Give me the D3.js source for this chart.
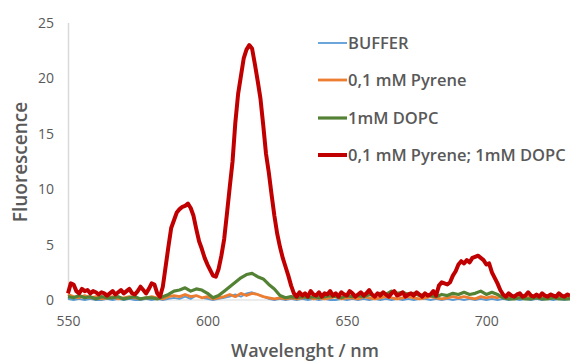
<!DOCTYPE html>
<html>
<head>
<meta charset="utf-8">
<script src="https://cdn.jsdelivr.net/npm/d3@7"></script>
<style>
  body { margin: 0; background: #fff; }
  svg { display: block; font-family: "Open Sans", sans-serif; }
</style>
</head>
<body>
<div id="chart"></div>
<script>
var svgWidth = 570, svgHeight = 361;

// red curve, 1 nm steps from 550 nm
var redStart = 550;
var redValues = [
  0.6, 1.5, 1.4, 0.8, 0.6, 1.0, 0.8, 0.9, 0.6, 0.8,
  0.7, 0.5, 0.7, 0.6, 0.4, 0.6, 0.8, 0.5, 0.7, 0.9,
  0.6, 0.8, 1.0, 0.6, 0.5, 0.8, 1.2, 0.9, 0.6, 1.0,
  1.5, 1.4, 0.6, 0.3, 1.2, 3.0, 4.8, 6.5, 7.2, 7.9,
  8.2, 8.4, 8.5, 8.7, 8.3, 7.6, 6.4, 5.3, 4.6, 3.8,
  3.2, 2.7, 2.2, 2.1, 2.8, 4.0, 5.5, 7.8, 10.2, 12.5,
  16.0, 18.6, 20.2, 21.8, 22.6, 23.0, 22.7, 21.3, 19.8, 18.2,
  15.8, 13.2, 11.5, 9.5, 7.6, 6.0, 4.8, 3.8, 3.0, 2.2,
  1.3, 0.6, 0.3, 0.7, 0.4, 0.6, 0.3, 0.8, 0.5, 0.4,
  0.7, 0.3, 0.6, 0.5, 0.8, 0.4, 0.6, 0.3, 0.7, 0.5,
  0.4, 0.8, 0.6, 0.3, 0.5, 0.7, 0.4, 0.6, 0.9, 0.5,
  0.3, 0.6, 0.4, 0.7, 0.5, 0.3, 0.6, 0.8, 0.4, 0.5,
  0.7, 0.3, 0.5, 0.6, 0.4, 0.7, 0.5, 0.3, 0.6, 0.4,
  0.5, 0.8, 0.4, 1.3, 1.6, 1.5, 1.4, 1.6, 2.2, 2.6,
  3.2, 3.5, 3.3, 3.6, 3.4, 3.8, 3.9, 4.0, 3.8, 3.6,
  3.2, 3.3, 2.5, 2.0, 1.5, 0.9, 0.5, 0.3, 0.6, 0.4,
  0.3, 0.5, 0.6, 0.3, 0.4, 0.7, 0.4, 0.3, 0.5, 0.3,
  0.6, 0.4, 0.3, 0.5, 0.4, 0.3, 0.6, 0.4, 0.3, 0.5,
  0.4
];

// other curves, 2 nm steps from 550 nm
var lowStart = 550;
var greenValues = [
  0.3, 0.2, 0.4, 0.2, 0.3, 0.1, 0.3, 0.2, 0.2, 0.3,
  0.1, 0.2, 0.3, 0.1, 0.2, 0.2, 0.1, 0.3, 0.5, 0.8,
  0.9, 1.1, 0.8, 1.0, 0.9, 0.6, 0.2, 0.4, 0.8, 1.2,
  1.6, 2.0, 2.3, 2.4, 2.1, 1.9, 1.4, 1.0, 0.4, 0.2,
  0.3, 0.2, 0.3, 0.2, 0.3, 0.2, 0.3, 0.4, 0.3, 0.2,
  0.4, 0.3, 0.4, 0.3, 0.5, 0.4, 0.6, 0.5, 0.8, 0.6,
  0.7, 0.5, 0.6, 0.4, 0.5, 0.4, 0.3, 0.5, 0.4, 0.6,
  0.5, 0.7, 0.5, 0.6, 0.8, 0.5, 0.7, 0.5, 0.2, 0.1,
  0.1, 0.2, 0.1, 0.1, 0.2, 0.1, 0.1, 0.2, 0.1, 0.1,
  0.1
];
var orangeValues = [
  0.5, 0.3, 0.2, 0.4, 0.2, 0.3, 0.1, 0.2, 0.3, 0.1,
  0.2, 0.3, 0.2, 0.1, 0.2, 0.3, 0.2, 0.1, 0.3, 0.4,
  0.3, 0.5, 0.3, 0.4, 0.2, 0.3, 0.1, 0.2, 0.3, 0.5,
  0.3, 0.6, 0.4, 0.6, 0.5, 0.3, 0.2, 0.1, 0.2, 0.1,
  0.2, 0.1, 0.2, 0.3, 0.1, 0.2, 0.1, 0.2, 0.3, 0.1,
  0.2, 0.2, 0.1, 0.3, 0.2, 0.1, 0.2, 0.3, 0.2, 0.1,
  0.2, 0.3, 0.2, 0.1, 0.2, 0.3, 0.2, 0.1, 0.2, 0.3,
  0.2, 0.3, 0.2, 0.1, 0.3, 0.2, 0.3, 0.2, 0.4, 0.3,
  0.2, 0.4, 0.3, 0.2, 0.3, 0.2, 0.4, 0.2, 0.3, 0.2,
  0.3
];
var blueValues = [
  0.1, 0.0, 0.1, 0.0, 0.1, 0.0, 0.0, 0.1, 0.0, 0.1,
  0.0, 0.1, 0.0, 0.0, 0.1, 0.0, 0.1, 0.0, 0.1, 0.2,
  0.1, 0.3, 0.1, 0.4, 0.2, 0.1, 0.0, 0.1, 0.2, 0.3,
  0.5, 0.3, 0.6, 0.7, 0.5, 0.3, 0.1, 0.0, 0.1, 0.0,
  0.1, 0.0, 0.1, 0.0, 0.1, 0.0, 0.1, 0.0, 0.0, 0.1,
  0.0, 0.1, 0.0, 0.1, 0.0, 0.1, 0.0, 0.1, 0.0, 0.1,
  0.0, 0.1, 0.0, 0.1, 0.1, 0.0, 0.1, 0.0, 0.1, 0.0,
  0.1, 0.0, 0.1, 0.0, 0.1, 0.0, 0.1, 0.0, 0.1, 0.0,
  0.1, 0.0, 0.1, 0.0, 0.1, 0.0, 0.1, 0.0, 0.1, 0.0,
  0.1
];

var seriesNames = ["BUFFER", "0,1 mM Pyrene", "1mM DOPC", "0,1 mM Pyrene; 1mM DOPC"];
var seriesColors = ["#5b9bd5", "#ed7d31", "#548235", "#c00000"];
var seriesWidths = [1.8, 2.8, 3.2, 4];
var xTicks = [550, 600, 650, 700];
var yTicks = [0, 5, 10, 15, 20, 25];

function toPoints(start, step, values) {
  return values.map(function(v, i) { return { wl: start + i * step, v: v }; });
}
var seriesData = [
  toPoints(lowStart, 2, blueValues),
  toPoints(lowStart, 2, orangeValues),
  toPoints(lowStart, 2, greenValues),
  toPoints(redStart, 1, redValues)
];

var svg = d3.select("#chart").append("svg").attr("width", svgWidth).attr("height", svgHeight);

var xScale = d3.scaleLinear().domain([550, 730]).range([68, 570]);
var yScale = d3.scaleLinear().domain([0, 25]).range([300, 23]);

// axes
svg.append("line").attr("x1", 68).attr("x2", 570).attr("y1", yScale(0)).attr("y2", yScale(0))
  .attr("stroke", "#d9d9d9").attr("stroke-width", 1);
svg.append("line").attr("x1", 68.5).attr("x2", 68.5).attr("y1", yScale(25)).attr("y2", yScale(0))
  .attr("stroke", "#d9d9d9").attr("stroke-width", 1.5);

var leftAxis = d3.axisLeft(yScale).tickValues(yTicks).tickSize(0).tickPadding(14);
var gy = svg.append("g").attr("transform", "translate(68,0)").call(leftAxis);
var bottomAxis = d3.axisBottom(xScale).tickValues(xTicks).tickSize(0).tickPadding(16);
var gx = svg.append("g").attr("transform", "translate(0," + yScale(0) + ")").call(bottomAxis);
[gx, gy].forEach(function(g) {
  g.select(".domain").remove();
  g.selectAll("text").attr("fill", "#595959").attr("font-size", "14px")
    .attr("font-family", "Open Sans, sans-serif");
});

// curves
var line = d3.line().x(function(d) { return xScale(d.wl); }).y(function(d) { return yScale(d.v); });
svg.selectAll("path.curve").data(seriesData).enter().append("path")
  .attr("class", "curve")
  .attr("d", line)
  .attr("fill", "none")
  .attr("stroke", function(d, i) { return seriesColors[i]; })
  .attr("stroke-width", function(d, i) { return seriesWidths[i]; })
  .attr("stroke-linejoin", "round");

// legend
var legendY = [43, 80, 118, 155];
var legend = svg.selectAll("g.legend").data(seriesNames).enter().append("g")
  .attr("class", "legend")
  .attr("transform", function(d, i) { return "translate(318," + legendY[i] + ")"; });
legend.append("line").attr("x1", 0).attr("x2", 29).attr("y1", 0).attr("y2", 0)
  .attr("stroke", function(d, i) { return seriesColors[i]; })
  .attr("stroke-width", function(d, i) { return seriesWidths[i]; });
legend.append("text").attr("x", 30).attr("y", 6).text(function(d) { return d; })
  .attr("fill", "#595959").attr("font-size", "16.5px").attr("font-weight", "600");

// titles
svg.append("text").attr("transform", "translate(26.5,162) rotate(-90)").attr("text-anchor", "middle")
  .attr("fill", "#595959").attr("font-size", "19px").attr("font-weight", "600").text("Fluorescence");
svg.append("text").attr("x", 305).attr("y", 357).attr("text-anchor", "middle")
  .attr("fill", "#595959").attr("font-size", "18px").attr("font-weight", "600").text("Wavelenght / nm");
</script>
</body>
</html>
